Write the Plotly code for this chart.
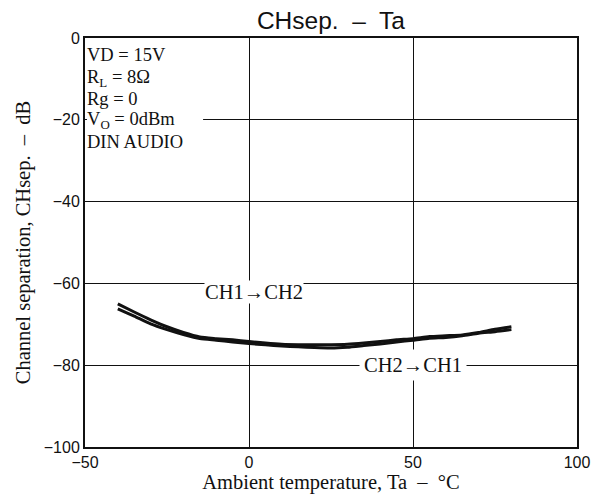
import plotly.graph_objects as go

temps = [-40, -35, -30, -25, -20, -15, -10, -5, 0, 5, 10, 15, 20, 25, 30, 35, 40, 45, 50, 55, 60, 65, 70, 75, 80]
ch1_to_ch2 = [-65.0, -67.0, -68.9, -70.6, -72.0, -73.1, -73.5, -73.8, -74.2, -74.6, -74.9, -75.0, -75.0, -75.0,
              -74.9, -74.6, -74.2, -73.8, -73.5, -73.0, -72.8, -72.6, -72.0, -71.2, -70.6]
ch2_to_ch1 = [-66.2, -68.0, -69.9, -71.3, -72.5, -73.5, -73.9, -74.3, -74.7, -75.0, -75.3, -75.5, -75.7, -75.8,
              -75.6, -75.2, -74.8, -74.3, -73.9, -73.4, -73.2, -72.8, -72.2, -71.8, -71.3]

x_ticks = [-50, 0, 50, 100]
y_ticks = [0, -20, -40, -60, -80, -100]
cond_lines = ["VD = 15V", "R<sub>L</sub> = 8Ω", "Rg = 0", "V<sub>O</sub> = 0dBm", "DIN AUDIO"]
cond_y = [-4.1, -9.8, -15.0, -20.1, -25.4]

serif = "Liberation Serif, Times New Roman, serif"
sans = "Liberation Sans, Arial, sans-serif"

fig = go.Figure()
for ys in (ch1_to_ch2, ch2_to_ch1):
    fig.add_trace(go.Scatter(x=temps, y=ys, mode="lines",
                             line=dict(color="#111111", width=3, shape="spline", smoothing=0.6),
                             showlegend=False, hoverinfo="skip"))

# white mask so the -20 gridline stops short of the condition text (as in the reference)
fig.add_shape(type="rect", xref="x", yref="y", x0=-49.4, x1=-14, y0=-20.6, y1=-19.4,
              fillcolor="white", line=dict(width=0), layer="above")

for txt, yy in zip(cond_lines, cond_y):
    fig.add_annotation(x=-50, y=yy, xref="x", yref="y", text=txt, showarrow=False,
                       xanchor="left", yanchor="middle", xshift=1,
                       font=dict(family=serif, size=18.5, color="#111111"), borderpad=0)

fig.add_annotation(x=1.5, y=-62.2, xref="x", yref="y", text="CH1→CH2", showarrow=False,
                   font=dict(family=serif, size=20.5, color="#111111"), bgcolor="white", borderpad=0)
fig.add_annotation(x=50, y=-80, xref="x", yref="y", text="CH2→CH1", showarrow=False,
                   font=dict(family=serif, size=20.5, color="#111111"), bgcolor="white", borderpad=4)

fig.update_layout(
    width=585, height=486,
    margin=dict(l=77, r=16, t=30, b=47),
    paper_bgcolor="white", plot_bgcolor="white",
    title=dict(text="CHsep.  –  Ta", x=0.552, xanchor="center", y=1.0, yanchor="top",
               pad=dict(t=4), font=dict(family=sans, size=24.5, color="#111111")),
)
fig.update_xaxes(range=[-50, 100], tickvals=x_ticks, ticktext=[str(v).replace("-", "−") for v in x_ticks],
                 showgrid=True, gridcolor="#111111", gridwidth=1, zeroline=False, automargin=False,
                 showline=True, linecolor="#111111", linewidth=2, mirror=True, ticks="",
                 tickfont=dict(family=sans, size=16, color="#111111"),
                 title=dict(text="Ambient temperature, Ta  –  °C", standoff=8,
                            font=dict(family=serif, size=20.5, color="#111111")))
fig.update_yaxes(range=[-100, 0], tickvals=y_ticks, ticktext=[str(v).replace("-", "−") for v in y_ticks],
                 showgrid=True, gridcolor="#111111", gridwidth=1, zeroline=False, automargin=False,
                 showline=True, linecolor="#111111", linewidth=2, mirror=True, ticks="",
                 tickfont=dict(family=sans, size=16, color="#111111"),
                 title=dict(text="Channel separation, CHsep.  –  dB", standoff=8,
                            font=dict(family=serif, size=20.5, color="#111111")))

fig.write_html("out.html")
